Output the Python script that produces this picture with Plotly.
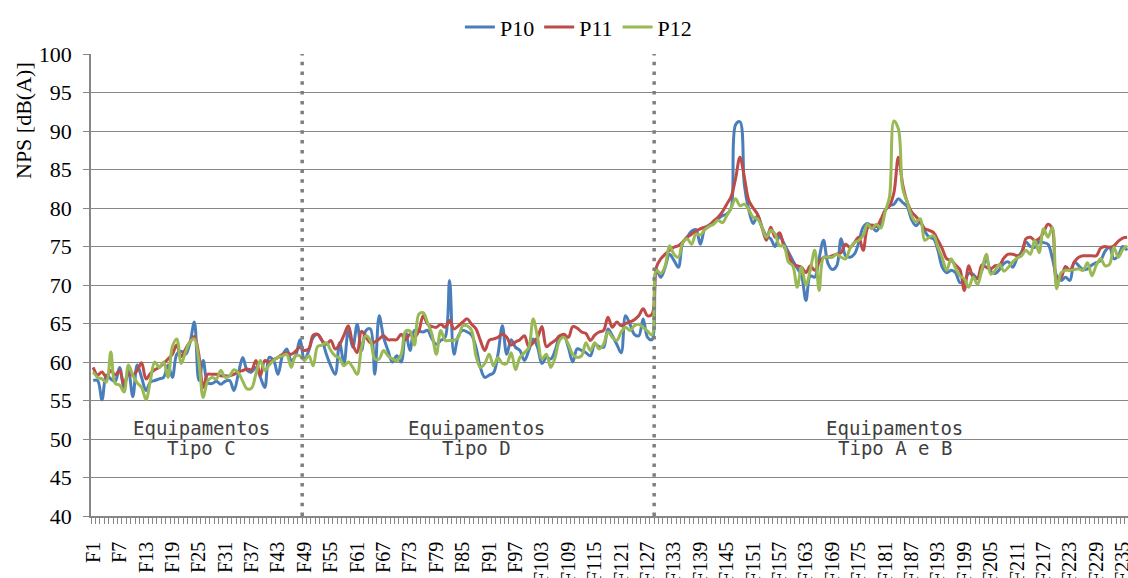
import plotly.graph_objects as go

categories = [f"F{i}" for i in range(1, 237)]

p10 = [
    57.6, 57.6, 55.1, 58.3, 57.8, 57.5, 59.3, 56.7, 58.9, 55.5,
    59.6, 58.0, 56.3, 57.4, 57.6, 57.8, 58.0, 59.6, 58.0, 61.0,
    61.4, 61.0, 62.5, 65.2, 57.6, 60.2, 57.3, 57.2, 57.5, 57.1,
    57.5, 57.6, 56.3, 58.5, 60.6, 58.9, 58.7, 59.3, 58.0, 56.7,
    60.6, 60.2, 58.4, 60.8, 61.7, 60.2, 60.8, 62.9, 60.2, 61.5,
    63.2, 63.6, 62.8, 61.0, 59.5, 58.4, 62.5, 59.8, 64.1, 61.9,
    64.9, 61.5, 64.1, 64.3, 58.4, 66.0, 63.2, 61.5, 60.0, 60.8,
    60.0, 63.9, 61.5, 64.1, 64.0, 63.9, 64.1, 63.0, 62.3, 62.8,
    63.2, 70.6, 61.0, 63.4, 64.1, 63.9, 63.5, 61.9, 59.3, 58.0,
    58.3, 58.6, 61.0, 64.7, 61.0, 62.9, 61.9, 61.5, 60.2, 61.5,
    63.0, 61.9, 59.8, 60.6, 60.4, 61.5, 63.2, 63.4, 61.9, 60.0,
    61.7, 61.5, 61.2, 60.8, 62.3, 62.0, 61.9, 64.3, 63.4, 62.3,
    61.2, 66.0, 64.9, 63.6, 63.4, 65.6, 63.2, 62.9, 72.0, 71.0,
    72.3, 74.0, 73.2, 72.3, 75.5, 76.2, 77.0, 77.2, 75.3, 77.3,
    77.8, 78.2, 78.6, 79.0, 79.2, 80.0, 90.8, 91.2, 83.0, 79.8,
    78.0, 79.0, 77.5, 76.4, 76.0, 75.0, 76.4, 75.4, 74.3, 73.2,
    72.2, 71.2, 68.0, 71.2, 71.0, 73.5, 75.8, 72.8, 72.0, 72.5,
    76.0, 73.8, 73.6, 74.0, 75.5, 77.5, 78.0, 77.6, 77.0, 78.0,
    79.7, 80.3, 80.5, 81.2, 80.7, 80.2, 78.5, 77.7, 78.2, 77.0,
    76.2, 76.0, 74.5, 72.3, 71.6, 71.9, 71.6, 70.3, 70.5, 71.5,
    71.4, 70.8, 71.9, 73.4, 71.8, 71.5, 72.0, 72.8, 73.0, 72.3,
    73.5, 74.3, 75.6, 75.0, 74.9, 75.6, 75.5, 75.3, 73.5, 71.2,
    70.6, 71.0, 70.6, 73.0, 72.5, 72.0, 72.1, 72.6, 72.9, 73.2,
    74.4, 74.9, 73.4, 73.8, 75.0, 74.5,
]

p11 = [
    59.3, 58.3, 58.7, 58.0, 58.9, 58.3, 58.9, 57.0, 58.5, 58.3,
    58.9, 59.9, 57.8, 58.5, 59.0, 59.3, 59.8, 60.4, 61.0, 62.2,
    60.7, 61.7, 62.6, 63.3, 61.0, 56.7, 58.4, 58.4, 58.4, 58.2,
    58.2, 58.2, 58.4, 58.7, 58.9, 59.1, 59.0, 60.2, 58.2, 60.2,
    60.0, 60.3, 60.6, 61.0, 61.2, 61.0, 61.4, 61.9, 61.5, 61.7,
    63.5, 63.6, 62.8, 62.3, 62.8, 61.7, 62.3, 63.5, 64.7, 62.3,
    61.2, 64.0, 63.2, 62.5, 62.6, 63.0, 63.4, 62.9, 62.9, 62.9,
    63.6, 62.9, 63.6, 63.2, 64.0, 66.0, 64.9, 64.6, 64.5, 64.9,
    64.5, 65.4, 64.3, 64.7, 65.2, 65.6, 64.9, 64.3, 62.8, 61.5,
    62.8, 63.0, 63.2, 63.6, 63.2, 62.2, 62.6, 62.9, 63.4, 62.0,
    62.5, 63.2, 64.6, 62.0, 62.4, 62.8, 63.4, 63.6, 63.2, 64.6,
    64.4, 63.9, 63.7, 62.8, 63.5, 63.9, 64.1, 65.8, 64.5, 65.2,
    64.7, 65.0, 65.2, 65.5, 66.0, 66.9, 66.0, 66.2, 72.3, 73.4,
    74.0, 74.5, 74.9, 75.1, 75.6, 76.2, 76.6, 77.0, 77.3, 77.5,
    77.7, 78.3, 78.8, 79.5, 80.5, 81.5, 83.8, 86.6, 84.0, 81.0,
    80.0, 79.2, 77.5, 75.8, 77.5, 76.2, 76.8, 75.0, 74.0, 72.7,
    72.5, 72.3, 71.6, 72.5, 71.9, 73.0, 73.6, 73.6, 73.8, 74.0,
    74.2, 75.3, 74.9, 75.5, 76.2, 74.5, 77.4, 77.8, 77.6, 78.5,
    79.7, 80.3, 82.0, 86.6, 83.0, 80.8, 79.5, 78.9, 78.2, 77.3,
    77.1, 76.8, 75.8, 74.7, 73.4, 73.2, 72.6, 72.0, 69.3, 72.5,
    71.0, 70.9, 72.6, 72.3, 72.1, 72.5, 72.6, 73.5, 74.0, 74.0,
    73.8, 74.0, 76.0, 76.2, 75.8, 76.0, 76.8, 77.9, 77.3, 70.8,
    71.0, 72.4, 71.9, 73.0, 73.6, 73.8, 73.8, 73.8, 73.8, 74.8,
    75.0, 74.9, 75.1, 75.7, 76.1, 76.2,
]

p12 = [
    58.7, 58.0, 57.8, 57.4, 61.3, 57.2, 57.0, 56.1, 59.6, 58.3,
    57.3, 56.7, 55.1, 57.6, 60.0, 59.3, 60.0, 58.0, 62.0, 63.0,
    59.8, 61.3, 62.6, 63.0, 60.2, 55.4, 57.5, 58.0, 57.8, 58.9,
    58.0, 58.2, 59.0, 58.6, 57.5, 56.5, 56.6, 58.5, 60.2, 58.9,
    59.6, 60.2, 60.6, 60.8, 61.0, 59.3, 60.8, 60.8, 60.2, 60.8,
    59.5, 62.0, 62.2, 62.5, 61.5, 60.8, 60.5, 59.5, 60.0, 59.3,
    58.4, 61.9, 63.4, 62.8, 60.4, 60.4, 61.5, 60.8, 60.4, 60.2,
    61.0, 64.0, 64.0, 62.2, 66.2, 66.4, 65.1, 63.6, 61.0, 64.1,
    62.8, 62.8, 62.8, 63.2, 64.7, 64.7, 64.1, 60.8, 59.3, 59.8,
    61.0, 59.5, 60.6, 59.8, 59.8, 61.2, 59.0, 60.6, 61.2, 61.9,
    65.6, 63.2, 60.4, 61.0, 59.3, 60.6, 62.8, 63.2, 62.3, 61.0,
    60.6, 60.8, 62.5, 61.5, 62.5, 61.7, 62.3, 63.9, 63.2, 62.8,
    63.9, 64.5, 64.1, 64.7, 64.9, 64.5, 64.0, 63.5, 71.9, 71.5,
    72.5, 75.1, 74.0, 73.6, 75.5, 76.0, 75.3, 76.6, 76.5, 77.2,
    77.6, 77.9, 78.4, 78.1, 79.0, 80.0, 81.2, 80.3, 80.5, 79.8,
    78.8, 78.6, 77.5, 76.2, 77.1, 76.6, 75.1, 75.1, 73.0, 72.5,
    69.7, 72.3, 70.0, 72.0, 74.5, 69.3, 73.6, 73.6, 73.6, 74.0,
    73.6, 73.4, 74.7, 75.5, 75.8, 76.4, 77.9, 77.3, 77.9, 77.4,
    79.5, 81.5, 91.3, 90.3, 82.5, 80.8, 79.0, 78.2, 78.6, 75.8,
    76.2, 76.4, 74.9, 73.5, 71.9, 73.4, 72.2, 71.2, 70.8, 69.7,
    71.0, 70.1, 72.0, 74.0, 71.4, 71.9, 72.7, 71.8, 72.3, 73.0,
    73.5, 73.8, 74.5, 74.0, 75.8, 74.2, 77.3, 76.2, 77.5, 69.5,
    71.6, 71.9, 71.9, 72.0, 72.1, 71.9, 72.9, 71.2, 72.6, 73.4,
    72.5, 72.7, 74.9, 73.6, 74.6, 75.1,
]

series_names = ["P10", "P11", "P12"]
series_colors = ["#4A7EBB", "#BE4B48", "#98B954"]
group_sizes = [48, 80, 108]
group_labels = [("Equipamentos", "Tipo C"), ("Equipamentos", "Tipo D"), ("Equipamentos", "Tipo A e B")]

n = len(categories)
xpos = list(range(n))

fig = go.Figure()
for name, vals, col in zip(series_names, [p10, p11, p12], series_colors):
    fig.add_trace(go.Scatter(
        x=xpos[:len(vals)], y=vals, name=name, mode="lines",
        line=dict(color=col, width=3, shape="spline", smoothing=1),
        hoverinfo="skip",
    ))

serif = "Liberation Serif, Times New Roman, serif"
mono = "DejaVu Sans Mono, monospace"
gray = "#868686"

# group separators
b = -0.5
for gs in group_sizes[:-1]:
    b += gs
    fig.add_shape(type="line", xref="x", yref="paper", x0=b, x1=b, y0=0, y1=1,
                  line=dict(color="#7f7f7f", width=3.5, dash="3.5px,6.3px"), layer="above")

label_x = [24.7, 87.2, 182.2]
for (l1, l2), lx in zip(group_labels, label_x):
    fig.add_annotation(x=lx, y=51.4, xref="x", yref="y", text=l1, showarrow=False,
                       font=dict(family=mono, size=19, color="#404040"))
    fig.add_annotation(x=lx, y=48.8, xref="x", yref="y", text=l2, showarrow=False,
                       font=dict(family=mono, size=19, color="#404040"))

fig.add_annotation(x=-0.0646, y=0.855, xref="paper", yref="paper", text="NPS [dB(A)]",
                   textangle=-90, showarrow=False, xanchor="center", yanchor="middle",
                   font=dict(family=serif, size=22, color="black"))

fig.update_layout(
    width=1128, height=578,
    margin=dict(l=91, r=0, t=54, b=62, autoexpand=False),
    paper_bgcolor="white", plot_bgcolor="white",
    showlegend=True,
    legend=dict(orientation="h", x=0.47, xanchor="center", y=1.058, yanchor="middle",
                font=dict(family=serif, size=22, color="black"), bgcolor="rgba(0,0,0,0)"),
    xaxis=dict(
        type="linear", range=[-0.5, 235.2], automargin=False,
        tickmode="array", tickvals=xpos[::6], ticktext=categories[::6],
        tickangle=-90, ticks="", showgrid=False, zeroline=False,
        showline=True, linecolor=gray, linewidth=1.5,
        tickfont=dict(family=serif, size=20, color="black"),
        ticklabelstandoff=16, ticklabeloverflow="allow",
        minor=dict(ticks="outside", dtick=1, tick0=0.5, ticklen=6, tickcolor=gray, tickwidth=1, showgrid=False),
    ),
    yaxis=dict(
        range=[40, 100], dtick=5, tick0=40, automargin=False,
        showgrid=True, gridcolor=gray, gridwidth=1.4,
        ticks="outside", ticklen=6, tickcolor=gray,
        showline=True, linecolor=gray, linewidth=1.5, zeroline=False,
        tickfont=dict(family=serif, size=22, color="black"),
        ticklabelstandoff=7,
    ),
)

fig.write_html("out.html", config={"displayModeBar": False},
               post_script="document.body.style.margin='0';document.body.style.overflow='hidden';")
